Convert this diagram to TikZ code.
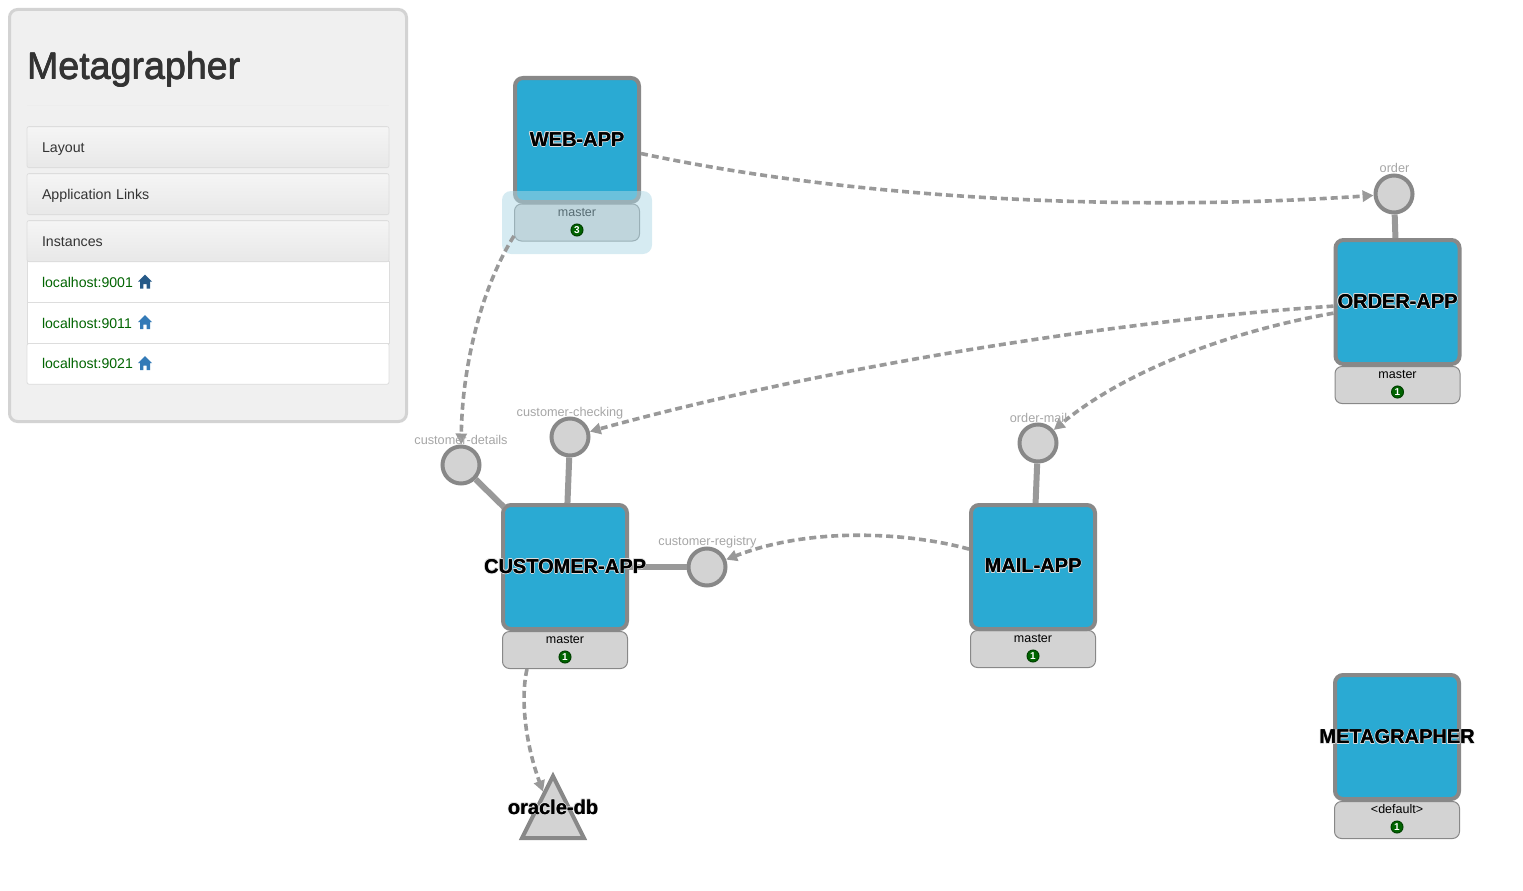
\documentclass[tikz,border=0pt]{standalone}
\usepackage{fontspec}
\usetikzlibrary{arrows.meta,shapes.geometric,calc}
\setmainfont{Liberation Sans}
\definecolor{panelbg}{HTML}{F0F0F0}
\definecolor{panelln}{HTML}{D3D3D3}
\definecolor{rowln}{HTML}{DDDDDD}
\definecolor{rowtop}{HTML}{F5F5F5}
\definecolor{rowbot}{HTML}{E8E8E8}
\definecolor{hrc}{HTML}{EDEDED}
\definecolor{txt}{HTML}{333333}
\definecolor{appblue}{HTML}{2AAAD3}
\definecolor{nodeln}{HTML}{888888}
\definecolor{nodebg}{HTML}{D3D3D3}
\definecolor{edgec}{HTML}{999999}
\definecolor{portlab}{HTML}{A6A6A6}
\definecolor{badge}{HTML}{006400}
\definecolor{linkc}{HTML}{006400}
\definecolor{homedark}{HTML}{265A88}
\definecolor{homelight}{HTML}{337AB7}
\definecolor{haloc}{HTML}{DDDDDD}
\definecolor{hilite}{HTML}{ADD8E6}
\newcommand\hcopy[3]{\rlap{\kern#1pt\raisebox{#2pt}{\textcolor{haloc}{#3}}}}
\newcommand\halo[1]{\hcopy{-.8}{0}{#1}\hcopy{.8}{0}{#1}\hcopy{0}{.8}{#1}\hcopy{0}{-.8}{#1}\hcopy{-.6}{-.6}{#1}\hcopy{.6}{-.6}{#1}\hcopy{-.6}{.6}{#1}\hcopy{.6}{.6}{#1}\rlap{\kern.25pt #1}#1}
\newcommand\thicken[1]{\rlap{\kern.7pt #1}\rlap{\kern.35pt\raisebox{.3pt}{#1}}\rlap{\kern.35pt\raisebox{-.3pt}{#1}}#1}
\tikzset{
  x=1pt,y=-1pt,
  panel/.style={draw=panelln,line width=3pt,fill=panelbg,rounded corners=8pt,anchor=north west,minimum width=397pt,minimum height=412pt},
  rowbox/.style={draw=rowln,line width=.8pt,top color=rowtop,bottom color=rowbot,rounded corners=2pt,anchor=north west,minimum width=362pt,minimum height=41pt,inner xsep=15pt,text width=332pt,align=left,text=txt,text height=10pt,text depth=0pt,font=\fontsize{14.2}{17}\selectfont},
  listbox/.style={draw=rowln,line width=.8pt,fill=white,anchor=north west,minimum width=362pt,minimum height=40.8pt,inner xsep=15pt,text width=332pt,align=left,text=linkc,text height=10pt,text depth=0pt,font=\fontsize{14.1}{17}\selectfont},
  appbox/.style={draw=nodeln,fill=appblue,line width=4pt,rounded corners=8pt,minimum width=124pt,minimum height=124pt,inner sep=0pt},
  subbox/.style={draw=nodeln,fill=nodebg,line width=1pt,rounded corners=7pt,minimum width=125pt,minimum height=37pt,inner sep=0pt,anchor=north},
  subtext/.style={font=\fontsize{12.5}{14}\selectfont,text=black,inner sep=0pt},
  badgedot/.style={circle,draw=black!35!badge,fill=badge,line width=1pt,minimum size=12pt,inner sep=0pt,text=white,font=\bfseries\fontsize{10}{10}\selectfont},
  port/.style={circle,draw=nodeln,fill=nodebg,line width=4pt,minimum size=37pt,inner sep=0pt},
  portlabel/.style={font=\fontsize{12.7}{14}\selectfont,text=portlab,inner sep=0pt,text height=9pt,text depth=2.5pt},
  bigtext/.style={font=\bfseries\fontsize{20}{24}\selectfont,text=black,inner sep=0pt},
  stem/.style={draw=edgec,line width=6pt},
  dep/.style={draw=edgec,line width=3.6pt,dash pattern=on 7pt off 4pt,-{Triangle[length=11pt,width=11pt]}},
  homeicon/.pic={\path[pic actions] (7,0) -- (14,7) -- (12,7) -- (12,14) -- (8.6,14) -- (8.6,9.5) -- (5.4,9.5) -- (5.4,14) -- (2,14) -- (2,7) -- (0,7) -- cycle;},
}
\begin{document}
\begin{tikzpicture}
\useasboundingbox (0,0) rectangle (1523,891);
% panel
\node[panel] (panel) at (8,8) {};
\node[anchor=west,inner sep=0pt,font=\fontsize{37.6}{44}\selectfont,text=txt] (title) at (26.6,69.5) {\thicken{Metagrapher}};
\draw[draw=hrc,line width=.8pt] (27,105) coordinate (hra) -- (389,105) coordinate (hrb);
\node[rowbox] (layout) at (26.6,126.2) {Layout};
\node[rowbox] (links) at (26.6,173.2) {Application Links};
\node[listbox] (inst1) at (26.6,261.4) {localhost:9001};
\node[listbox] (inst2) at (26.6,302.2) {localhost:9011};
\node[listbox,rounded corners=2pt] (inst3) at (26.6,343) {localhost:9021};
\node[listbox] (inst2b) at (26.6,302.2) {localhost:9011};
\node[rowbox] (instances) at (26.6,220.2) {Instances};
\pic[fill=homedark] (homea) at (138,274.5) {homeicon};
\pic[fill=homelight] (homeb) at (138,315) {homeicon};
\pic[fill=homelight] (homec) at (138,356) {homeicon};
% application boxes
\node[subbox] (webmaster) at (577,203.5) {};
\node[subbox] (ordermaster) at (1397.5,366) {};
\node[subbox] (custmaster) at (565,631) {};
\node[subbox] (mailmaster) at (1033,630) {};
\node[subbox] (metamaster) at (1397,801) {};
\node[appbox] (webapp) at (577,140) {};
\node[appbox] (orderapp) at (1397.5,302) {};
\node[appbox] (custapp) at (565,567) {};
\node[appbox] (mailapp) at (1033,567) {};
\node[appbox] (metaapp) at (1397,737) {};
% branch labels
\node[subtext] (webm) at (577,212.5) {master};
\node[subtext] (ordm) at (1397.5,374.5) {master};
\node[subtext] (cusm) at (565,639.5) {master};
\node[subtext] (maim) at (1033,638.5) {master};
\node[subtext] (metm) at (1397,809.5) {<default>};
% highlight
\node[fill=hilite,fill opacity=.5,rounded corners=9pt,minimum width=150pt,minimum height=63pt,inner sep=0pt] (hl) at (577,222.5) {};
% badges
\node[badgedot] (webb) at (577,230) {3};
\node[badgedot] (ordb) at (1397.5,392) {1};
\node[badgedot] (cusb) at (565,657) {1};
\node[badgedot] (maib) at (1033,656) {1};
\node[badgedot] (metb) at (1397,827) {1};
% ports
\node[port] (order) at (1394,194) {};
\node[port] (checking) at (570,437) {};
\node[port] (details) at (461,465) {};
\node[port] (registry) at (707,567) {};
\node[port] (ordermail) at (1038,443) {};
\node[isosceles triangle,isosceles triangle apex angle=53,isosceles triangle stretches,shape border rotate=90,draw=nodeln,fill=nodebg,line width=4pt,minimum width=62pt,minimum height=62pt,inner sep=0pt] (oracle) at (553,819) {};
% stems
\draw[stem] (order) -- (orderapp);
\draw[stem] (checking) -- (custapp);
\draw[stem,shorten >=-4pt] (details) -- (custapp);
\draw[stem] (registry) -- (custapp);
\draw[stem] (ordermail) -- (mailapp);
% dependencies
\draw[dep] (webapp) .. controls (860,200) and (1130,212) .. (order);
\draw[dep] (orderapp) .. controls (1150,318) and (850,360) .. (checking);
\draw[dep] (orderapp) .. controls (1220,333) and (1120,375) .. (ordermail);
\draw[dep] (mailapp) .. controls (915,534) and (815,525) .. (registry);
\draw[dep] (webmaster.192) .. controls (480,290) and (462,370) .. (details);
\draw[dep] (custmaster.south west) ++(25,0) coordinate (custout) .. controls (520,700) and (526,745) .. (oracle);
% port labels
\node[portlabel] (orderl) at (1394.5,169.5) {order};
\node[portlabel] (checkingl) at (570,413) {customer-checking};
\node[portlabel] (detailsl) at (461,441.5) {customer-details};
\node[portlabel] (registryl) at (707.5,542.5) {customer-registry};
\node[portlabel] (ordermaill) at (1038.5,419) {order-mail};
% big labels
\node[bigtext] (webl) at (577,139.5) {\halo{WEB-APP}};
\node[bigtext] (ordl) at (1397.5,301.5) {\halo{ORDER-APP}};
\node[bigtext] (cusl) at (565,566.5) {\halo{CUSTOMER-APP}};
\node[bigtext] (mail) at (1033,566) {\halo{MAIL-APP}};
\node[bigtext] (metl) at (1397,737) {\halo{METAGRAPHER}};
\node[bigtext] (oral) at (553,807) {\halo{oracle-db}};
\end{tikzpicture}
\end{document}
